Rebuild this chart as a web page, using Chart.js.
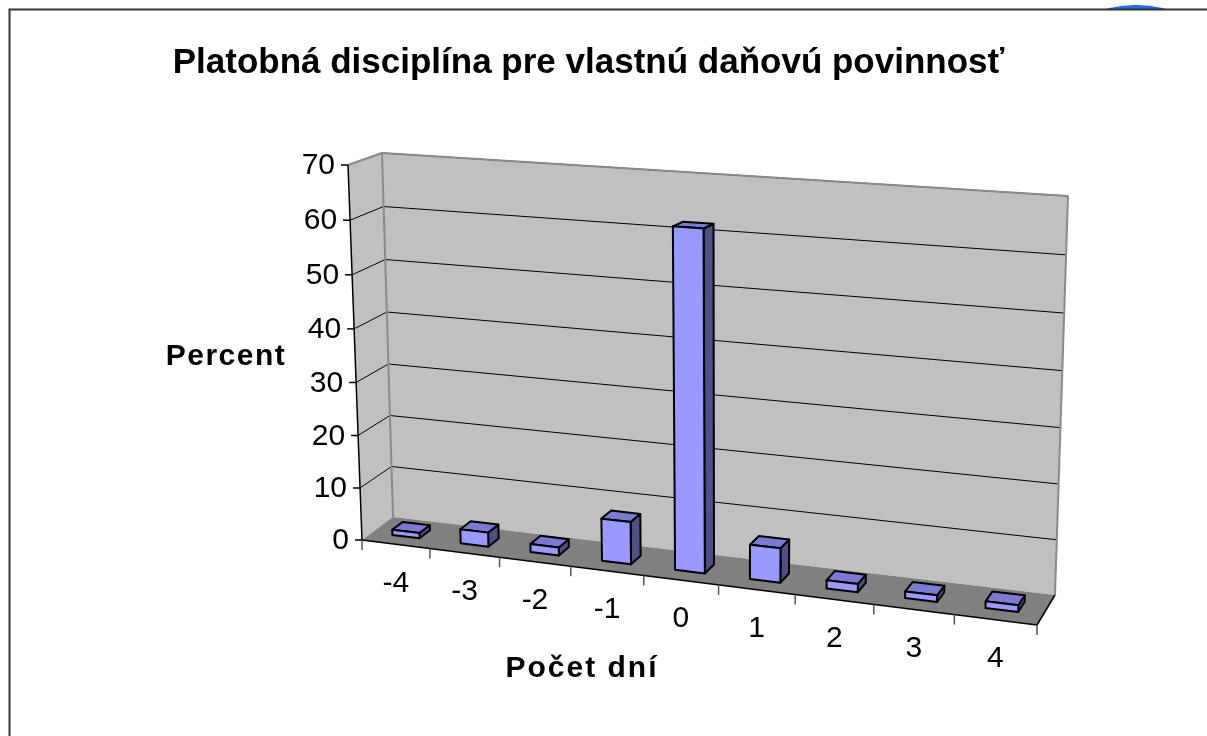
<!DOCTYPE html>
<html>
<head>
<meta charset="utf-8">
<title>Platobná disciplína</title>
<script src="https://cdn.jsdelivr.net/npm/chart.js@4.4.0/dist/chart.umd.min.js"></script>
<style>
  html, body { margin: 0; padding: 0; background: #fff; }
  canvas { display: block; }
</style>
</head>
<body>
<canvas id="chart" width="1207" height="736"></canvas>
<script>
const days = ['-4', '-3', '-2', '-1', '0', '1', '2', '3', '4'];
const percent = [1, 2.7, 1.5, 7.9, 62, 6.3, 1.5, 1.2, 1.2];
const percentTicks = [0, 10, 20, 30, 40, 50, 60, 70];

const FONT = '"Liberation Sans", Arial, sans-serif';

// corners of the front and back planes of the 3d box
// order: bottom-left, bottom-right, top-right, top-left
const frontQuad = [[362, 540], [1037, 625], [1048, 208], [348, 165]];
const backQuad = [[393, 517], [1055, 595], [1068, 196], [382, 153]];
const barDepth = [0.33, 0.67];

function squareToQuad(q) {
  const [[x0, y0], [x1, y1], [x2, y2], [x3, y3]] = q;
  const dx1 = x1 - x2, dx2 = x3 - x2, dx3 = x0 - x1 + x2 - x3;
  const dy1 = y1 - y2, dy2 = y3 - y2, dy3 = y0 - y1 + y2 - y3;
  const det = dx1 * dy2 - dx2 * dy1;
  const g = (dx3 * dy2 - dx2 * dy3) / det;
  const h = (dx1 * dy3 - dx3 * dy1) / det;
  const a = x1 - x0 + g * x1, b = x3 - x0 + h * x3, c = x0;
  const d = y1 - y0 + g * y1, e = y3 - y0 + h * y3, f = y0;
  return (u, v) => {
    const w = g * u + h * v + 1;
    return [(a * u + b * v + c) / w, (d * u + e * v + f) / w];
  };
}

const front = squareToQuad(frontQuad);
const back = squareToQuad(backQuad);

function proj(u, v, z) {
  const p = front(u, v), q = back(u, v);
  return [p[0] + (q[0] - p[0]) * z, p[1] + (q[1] - p[1]) * z];
}

function poly(ctx, pts, fill, stroke, lw) {
  ctx.beginPath();
  pts.forEach((p, i) => i ? ctx.lineTo(p[0], p[1]) : ctx.moveTo(p[0], p[1]));
  ctx.closePath();
  if (fill) { ctx.fillStyle = fill; ctx.fill(); }
  if (stroke) { ctx.strokeStyle = stroke; ctx.lineWidth = lw; ctx.lineJoin = 'round'; ctx.stroke(); }
}

function line(ctx, a, b, color, lw) {
  ctx.beginPath();
  ctx.moveTo(a[0], a[1]);
  ctx.lineTo(b[0], b[1]);
  ctx.strokeStyle = color;
  ctx.lineWidth = lw;
  ctx.stroke();
}

// chart pixel -> unit coords inside the plot box
function toU(chart, px) {
  const a = chart.chartArea;
  return (px - a.left) / (a.right - a.left);
}
function toV(chart, py) {
  const a = chart.chartArea;
  return (a.bottom - py) / (a.bottom - a.top);
}

const box3d = {
  id: 'box3d',
  beforeDraw(chart) {
    const ctx = chart.ctx;
    const xs = chart.scales.x, ys = chart.scales.y;
    ctx.save();

    // slide decoration peeking above the frame
    ctx.fillStyle = '#1f6bf2';
    ctx.beginPath();
    ctx.ellipse(1136, 40, 66, 35, 0, 0, Math.PI * 2);
    ctx.fill();
    ctx.fillStyle = '#fff';
    ctx.fillRect(9, 9, 1300, 800);
    ctx.strokeStyle = '#333';
    ctx.lineWidth = 2;
    ctx.strokeRect(9.5, 9.5, 1300, 800);

    // walls and floor
    poly(ctx, [proj(0, 0, 1), proj(1, 0, 1), proj(1, 1, 1), proj(0, 1, 1)], '#c0c0c0');
    poly(ctx, [proj(0, 0, 0), proj(0, 0, 1), proj(0, 1, 1), proj(0, 1, 0)], '#c0c0c0');
    poly(ctx, [proj(0, 0, 0), proj(1, 0, 0), proj(1, 0, 1), proj(0, 0, 1)], '#808080');

    // gridlines
    percentTicks.forEach(t => {
      const v = toV(chart, ys.getPixelForValue(t));
      if (t > 0) {
        line(ctx, proj(0, v, 0), proj(0, v, 1), '#000', 1);
        line(ctx, proj(0, v, 1), proj(1, v, 1), '#000', 1);
      }
      const p = proj(0, v, 0);
      line(ctx, p, [p[0] - 7, p[1]], '#000', 1.5);
      ctx.fillStyle = '#000';
      ctx.font = '30px ' + FONT;
      ctx.textAlign = 'right';
      ctx.textBaseline = 'middle';
      ctx.fillText(String(t), p[0] - 13, p[1] + 1);
    });

    // wall edges
    line(ctx, proj(0, 0, 1), proj(0, 1, 1), '#8a8a8a', 2);
    line(ctx, proj(0, 1, 0), proj(0, 1, 1), '#8a8a8a', 2);
    line(ctx, proj(0, 1, 1), proj(1, 1, 1), '#8a8a8a', 2);
    line(ctx, proj(1, 1, 1), proj(1, 0, 1), '#8a8a8a', 2);
    line(ctx, proj(0, 0, 0), proj(0, 1, 0), '#000', 1.5);
    line(ctx, proj(0, 0, 0), proj(1, 0, 0), '#000', 1.5);
    line(ctx, proj(1, 0, 0), proj(1, 0, 1), '#000', 1.5);

    // category ticks and labels along the floor front edge
    for (let i = 0; i <= days.length; i++) {
      const p = proj(i / days.length, 0, 0);
      line(ctx, p, [p[0], p[1] + 10], '#555', 1.5);
    }
    ctx.font = '30px ' + FONT;
    ctx.textAlign = 'center';
    ctx.textBaseline = 'middle';
    days.forEach((d, i) => {
      const p = proj(toU(chart, xs.getPixelForValue(i)), 0, 0);
      ctx.fillText(d, p[0], p[1] + 39);
    });

    // axis titles
    ctx.font = 'bold 30px ' + FONT;
    ctx.letterSpacing = '1.5px';
    ctx.fillText('Percent', 226, 357);
    ctx.letterSpacing = '2px';
    ctx.fillText('Počet dní', 582, 669);
    ctx.restore();
  },
  afterDatasetsDraw(chart) {
    const ctx = chart.ctx;
    const meta = chart.getDatasetMeta(0);
    const [z0, z1] = barDepth;
    ctx.save();
    meta.data.forEach(el => {
      const { x, y, base, width } = el.getProps(['x', 'y', 'base', 'width'], true);
      const u0 = toU(chart, x - width / 2), u1 = toU(chart, x + width / 2);
      const v0 = toV(chart, base), v1 = toV(chart, y);
      const frontFace = [proj(u0, v0, z0), proj(u1, v0, z0), proj(u1, v1, z0), proj(u0, v1, z0)];
      const sideFace = [proj(u1, v0, z0), proj(u1, v0, z1), proj(u1, v1, z1), proj(u1, v1, z0)];
      const topFace = [proj(u0, v1, z0), proj(u1, v1, z0), proj(u1, v1, z1), proj(u0, v1, z1)];
      poly(ctx, sideFace, '#4f4f88', '#000', 2);
      poly(ctx, topFace, '#7a7ad2', '#000', 2);
      poly(ctx, frontFace, '#9999ff', '#000', 2);
    });
    ctx.restore();
  }
};

new Chart(document.getElementById('chart'), {
  type: 'bar',
  data: {
    labels: days,
    datasets: [{
      data: percent,
      backgroundColor: 'rgba(0,0,0,0)',
      borderWidth: 0,
      barPercentage: 0.4,
      categoryPercentage: 1
    }]
  },
  options: {
    responsive: false,
    animation: false,
    layout: { padding: { left: 10, right: 40, bottom: 20 } },
    plugins: {
      legend: { display: false },
      tooltip: { enabled: false },
      title: {
        display: true,
        text: 'Platobná disciplína pre vlastnú daňovú povinnosť',
        color: '#000',
        font: { family: FONT, size: 35, weight: 'bold' },
        padding: { top: 42, bottom: 20 }
      }
    },
    scales: {
      x: { display: false },
      y: { display: false, min: 0, max: 70, ticks: { stepSize: 10 } }
    }
  },
  plugins: [box3d]
});
</script>
</body>
</html>
